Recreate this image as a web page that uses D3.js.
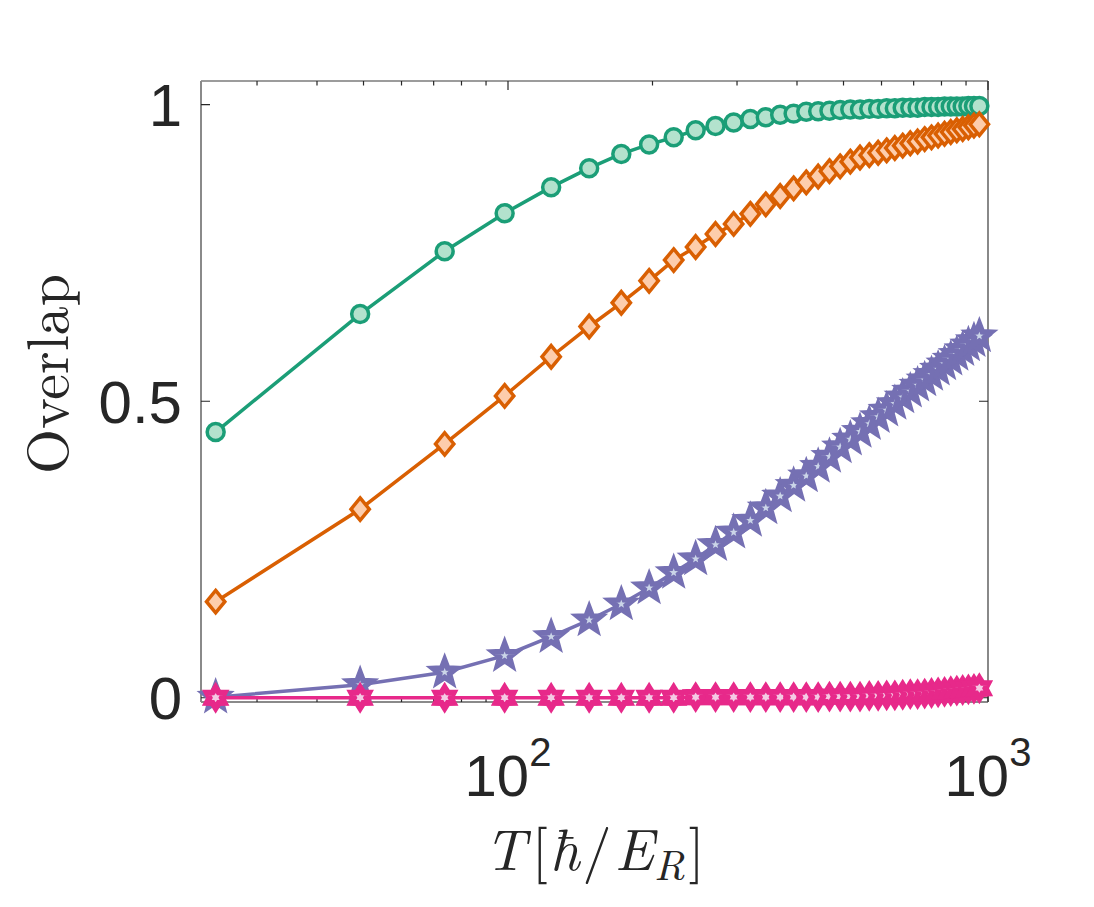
<!DOCTYPE html>
<html>
<head>
<meta charset="utf-8">
<script src="https://cdn.jsdelivr.net/npm/d3@7"></script>
<style>
body { margin: 0; background: #fff; }
</style>
</head>
<body>
<svg id="chart" width="1094" height="907"></svg>
<script>
// data

var times = [24.6, 49.2, 73.8, 98.4, 123, 147.6, 172.2, 196.8, 221.4, 246,
             270.6, 295.2, 319.8, 344.4, 369, 393.6, 418.2, 442.8, 467.4, 492,
             516.6, 541.2, 565.8, 590.4, 615, 639.6, 664.2, 688.8, 713.4, 738,
             762.6, 787.2, 811.8, 836.4, 861, 885.6, 910.2, 934.8, 959.4];

var overlapCircle = [0.448, 0.647, 0.753, 0.817, 0.861, 0.893, 0.917, 0.933, 0.945, 0.957,
                     0.964, 0.970, 0.976, 0.979, 0.983, 0.985, 0.988, 0.989, 0.990, 0.991,
                     0.992, 0.992, 0.993, 0.993, 0.994, 0.994, 0.995, 0.995, 0.995, 0.996,
                     0.996, 0.996, 0.997, 0.997, 0.997, 0.997, 0.998, 0.998, 0.998];

var overlapDiamond = [0.162, 0.318, 0.428, 0.509, 0.575, 0.626, 0.666, 0.703, 0.738, 0.760,
                      0.782, 0.799, 0.816, 0.832, 0.846, 0.859, 0.869, 0.879, 0.888, 0.896,
                      0.904, 0.911, 0.915, 0.919, 0.923, 0.927, 0.931, 0.935, 0.938, 0.942,
                      0.945, 0.948, 0.951, 0.954, 0.957, 0.959, 0.962, 0.965, 0.967];

var overlapPentagram = [0.001, 0.022, 0.043, 0.071, 0.103, 0.131, 0.158, 0.185, 0.211, 0.234,
                        0.258, 0.279, 0.299, 0.320, 0.340, 0.358, 0.374, 0.390, 0.407, 0.423,
                        0.436, 0.449, 0.462, 0.474, 0.485, 0.496, 0.507, 0.517, 0.527, 0.536,
                        0.545, 0.554, 0.563, 0.571, 0.579, 0.587, 0.595, 0.602, 0.610];

var overlapHexagram = [0.000, 0.000, 0.000, 0.000, 0.000, 0.000, 0.000, 0.000, 0.000, 0.001,
                       0.001, 0.001, 0.001, 0.001, 0.001, 0.001, 0.001, 0.001, 0.002, 0.002,
                       0.002, 0.002, 0.003, 0.003, 0.004, 0.004, 0.005, 0.006, 0.006, 0.007,
                       0.008, 0.009, 0.010, 0.011, 0.012, 0.013, 0.014, 0.015, 0.016];

var xTicks = [100, 1000];
var xTickBase = ["10", "10"];
var xTickExp = ["2", "3"];
var xMinorTicks = [30, 40, 50, 60, 70, 80, 90, 200, 300, 400, 500, 600, 700, 800, 900];
var yTicks = [0, 0.5, 1];
var yTickLabels = ["0", "0.5", "1"];

// set up container

var svg = d3.select("#chart"),
    margin = {top: 81, right: 106, bottom: 205, left: 201},
    width = +svg.attr("width") - margin.left - margin.right,
    height = +svg.attr("height") - margin.top - margin.bottom,
    g = svg.append("g").attr("transform", "translate(" + margin.left + "," + margin.top + ")");

var x = d3.scaleLog()
    .domain([22.93, 1000])
    .range([0, width]);

var y = d3.scaleLinear()
    .domain([-0.0072, 1.04])
    .range([height, 0]);

// custom marker shapes

function starShape(points, ratio) {
  return {
    draw: function(ctx, size) {
      var R = Math.sqrt(size);
      for (var i = 0; i < points * 2; i++) {
        var r = i % 2 ? R * ratio : R;
        var a = Math.PI * i / points - Math.PI / 2;
        if (i === 0) ctx.moveTo(r * Math.cos(a), r * Math.sin(a));
        else ctx.lineTo(r * Math.cos(a), r * Math.sin(a));
      }
      ctx.closePath();
    }
  };
}

var diamondShape = {
  draw: function(ctx, size) {
    var h = Math.sqrt(size), w = h * 0.82;
    ctx.moveTo(0, -h);
    ctx.lineTo(w, 0);
    ctx.lineTo(0, h);
    ctx.lineTo(-w, 0);
    ctx.closePath();
  }
};

var series = [
  {values: overlapCircle, color: "#1b9e77", fill: "#b3e2cd", shape: d3.symbolCircle, size: Math.PI * 72, sw: 3.5},
  {values: overlapDiamond, color: "#d95f02", fill: "#fdcdac", shape: diamondShape, size: 125, sw: 3.5},
  {values: overlapPentagram, color: "#7570b3", fill: "#cbd5e8", shape: starShape(5, 0.42), size: 150, sw: 5.5},
  {values: overlapHexagram, color: "#e7298a", fill: "#f4cae4", shape: starShape(6, 0.6), size: 105, sw: 6}
];

// axes box and ticks

var axisColor = "#262626";

g.append("line").attr("x1", 0).attr("x2", width).attr("y1", 0).attr("y2", 0)
  .attr("stroke", "#3a3a3a").attr("stroke-width", 1.2);
g.append("line").attr("x1", width).attr("x2", width).attr("y1", 0).attr("y2", height)
  .attr("stroke", "#3a3a3a").attr("stroke-width", 1.2);
g.append("line").attr("x1", 0).attr("x2", 0).attr("y1", 0).attr("y2", height)
  .attr("stroke", "#8a8a8a").attr("stroke-width", 2);
g.append("line").attr("x1", 0).attr("x2", width).attr("y1", height).attr("y2", height)
  .attr("stroke", "#8a8a8a").attr("stroke-width", 2);

var tickLen = 9, minorLen = 4.5;

g.selectAll(".xmajor")
  .data(xTicks)
  .enter().append("path")
  .attr("class", "xmajor")
  .attr("d", function(d) {
    return "M" + x(d) + "," + height + "v" + (-tickLen) + "M" + x(d) + ",0v" + tickLen;
  })
  .attr("stroke", axisColor).attr("stroke-width", 1.2);

g.selectAll(".xminor")
  .data(xMinorTicks)
  .enter().append("path")
  .attr("class", "xminor")
  .attr("d", function(d) {
    return "M" + x(d) + "," + height + "v" + (-minorLen) + "M" + x(d) + ",0v" + minorLen;
  })
  .attr("stroke", axisColor).attr("stroke-width", 1.2);

g.selectAll(".ytick")
  .data(yTicks)
  .enter().append("path")
  .attr("class", "ytick")
  .attr("d", function(d) {
    return "M0," + y(d) + "h" + tickLen + "M" + width + "," + y(d) + "h" + (-tickLen);
  })
  .attr("stroke", axisColor).attr("stroke-width", 1.2);

// tick labels

var tickFont = "'Liberation Sans', Arial, Helvetica, sans-serif";

g.selectAll(".ylabel")
  .data(yTicks)
  .enter().append("text")
  .attr("class", "ylabel")
  .attr("x", -19)
  .attr("y", function(d) { return y(d); })
  .attr("dy", "0.36em")
  .attr("text-anchor", "end")
  .style("font-family", tickFont)
  .style("font-size", "60px")
  .attr("fill", axisColor)
  .text(function(d, i) { return yTickLabels[i]; });

var xl = g.selectAll(".xlabel")
  .data(xTicks)
  .enter().append("text")
  .attr("class", "xlabel")
  .attr("x", function(d) { return x(d); })
  .attr("y", height + 94)
  .attr("text-anchor", "middle")
  .style("font-family", tickFont)
  .style("font-size", "58px")
  .attr("fill", axisColor);

xl.append("tspan").text(function(d, i) { return xTickBase[i]; });
xl.append("tspan")
  .attr("dy", "-0.75em")
  .style("font-size", "40px")
  .text(function(d, i) { return xTickExp[i]; });

// axis titles

var mathFont = "'Latin Modern Roman', 'CMU Serif', 'Liberation Serif', 'DejaVu Serif', serif";

svg.append("text")
  .attr("transform", "translate(68," + 374 + ") rotate(-90)")
  .attr("text-anchor", "middle")
  .style("font-family", mathFont)
  .style("font-size", "58px")
  .attr("fill", axisColor)
  .text("Overlap");

var xt = svg.append("text")
  .attr("x", margin.left + width / 2)
  .attr("y", 870)
  .attr("text-anchor", "middle")
  .style("font-family", mathFont)
  .style("font-size", "58px")
  .attr("fill", axisColor);

xt.append("tspan").style("font-style", "italic").text("T");
xt.append("tspan").attr("dx", "6").text("[");
xt.append("tspan").attr("dx", "2").style("font-style", "italic").text("ħ");
xt.append("tspan").attr("dx", "3").text("/");
xt.append("tspan").attr("dx", "3").style("font-style", "italic").text("E");
xt.append("tspan").attr("dy", "10").style("font-style", "italic").style("font-size", "42px").text("R");
xt.append("tspan").attr("dx", "4").attr("dy", "-10").text("]");

// series lines and markers

var line = d3.line()
  .x(function(d, i) { return x(times[i]); })
  .y(function(d) { return y(d); });

series.forEach(function(s) {
  var sg = g.append("g");

  sg.append("path")
    .datum(s.values)
    .attr("fill", "none")
    .attr("stroke", s.color)
    .attr("stroke-width", 3.5)
    .attr("stroke-linejoin", "round")
    .attr("d", line);

  sg.selectAll(".marker")
    .data(s.values)
    .enter().append("path")
    .attr("class", "marker")
    .attr("transform", function(d, i) { return "translate(" + x(times[i]) + "," + y(d) + ")"; })
    .attr("d", d3.symbol().type(s.shape).size(s.size))
    .attr("fill", s.fill)
    .attr("stroke", s.color)
    .attr("stroke-width", s.sw)
    .attr("stroke-linejoin", "miter");
});
</script>
</body>
</html>
